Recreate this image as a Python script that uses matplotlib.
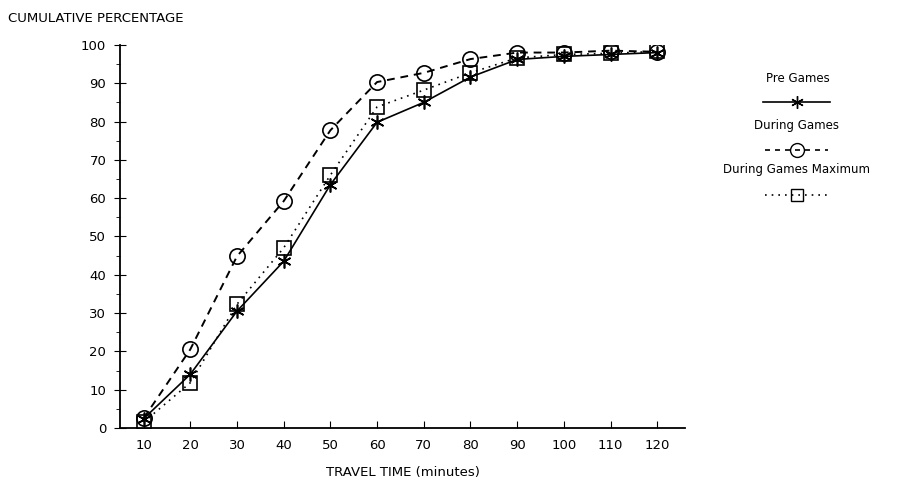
import matplotlib
matplotlib.use("Agg")
import matplotlib.pyplot as plt
from matplotlib.lines import Line2D

travel_time = [10, 20, 30, 40, 50, 60, 70, 80, 90, 100, 110, 120]
pre_games = [2.4, 14, 30.5, 43.5, 63.5, 79.8, 85, 91.6, 96.2, 97, 97.5, 98]
during_games = [2.5, 20.5, 44.8, 59.2, 77.7, 90.3, 92.7, 96.3, 98, 98, 98.5, 98.2]
during_max = [1.5, 11.8, 32.3, 47, 66, 83.8, 88.2, 92.7, 96.6, 97.5, 97.8, 98.3]
series_labels = ["Pre Games", "During Games", "During Games Maximum"]

plt.rcParams['font.family'] = ['DejaVu Sans']
fig = plt.figure(figsize=(8.97, 4.88), dpi=100)
ax = fig.add_axes([0.134, 0.123, 0.63, 0.785])

ax.plot(travel_time, pre_games, color='black', lw=1.2, ls='-',
        marker=(6, 2, 0), ms=10, mew=1.2)
ax.plot(travel_time, during_games, color='black', lw=1.4, ls=(0, (4, 3)),
        marker='o', ms=11, mfc='none', mew=1.2)
ax.plot(travel_time, during_max, color='black', lw=1.2, ls=(0, (1, 3)),
        marker='s', ms=10, mfc='none', mew=1.2)

ax.set_xlim(5, 126)
ax.set_ylim(0, 100)
ax.set_xticks(travel_time)
ax.set_yticks(range(0, 101, 10))
ax.set_yticks(range(5, 100, 10), minor=True)
ax.spines['top'].set_visible(False)
ax.spines['right'].set_visible(False)
ax.spines['left'].set_linewidth(1.3)
ax.spines['bottom'].set_linewidth(1.3)
ax.tick_params(axis='x', direction='in', length=5, labelsize=9.5, pad=8)
ax.tick_params(axis='y', which='major', direction='inout', length=8, labelsize=9.5, pad=6)
ax.tick_params(axis='y', which='minor', direction='out', length=3)

fig.text(0.009, 0.962, "CUMULATIVE PERCENTAGE", fontsize=9.5, ha='left', va='center')
ax.set_xlabel("TRAVEL TIME (minutes)", fontsize=9.5, labelpad=10)

# legend (custom, stacked)
leg_x = 0.888
fig.text(leg_x + 0.002, 0.84, series_labels[0], fontsize=8.5, ha='center', va='center')
fig.add_artist(Line2D([0.851, 0.888, 0.925], [0.79, 0.79, 0.79], color='black', lw=1.2,
                      marker=(6, 2, 0), ms=9, markevery=[1], transform=fig.transFigure))
fig.text(leg_x, 0.742, series_labels[1], fontsize=8.5, ha='center', va='center')
fig.add_artist(Line2D([0.853, 0.888, 0.923], [0.692, 0.692, 0.692], color='black', lw=1.2,
                      ls=(0, (3, 3)), marker='o', ms=10, mfc='none', markevery=[1],
                      transform=fig.transFigure))
fig.text(leg_x, 0.652, series_labels[2], fontsize=8.5, ha='center', va='center')
fig.add_artist(Line2D([0.853, 0.888, 0.923], [0.6, 0.6, 0.6], color='black', lw=1.2,
                      ls=(0, (1, 3)), marker='s', ms=9, mfc='none', markevery=[1],
                      transform=fig.transFigure))

fig.savefig("out.png", dpi=100, facecolor='white')
